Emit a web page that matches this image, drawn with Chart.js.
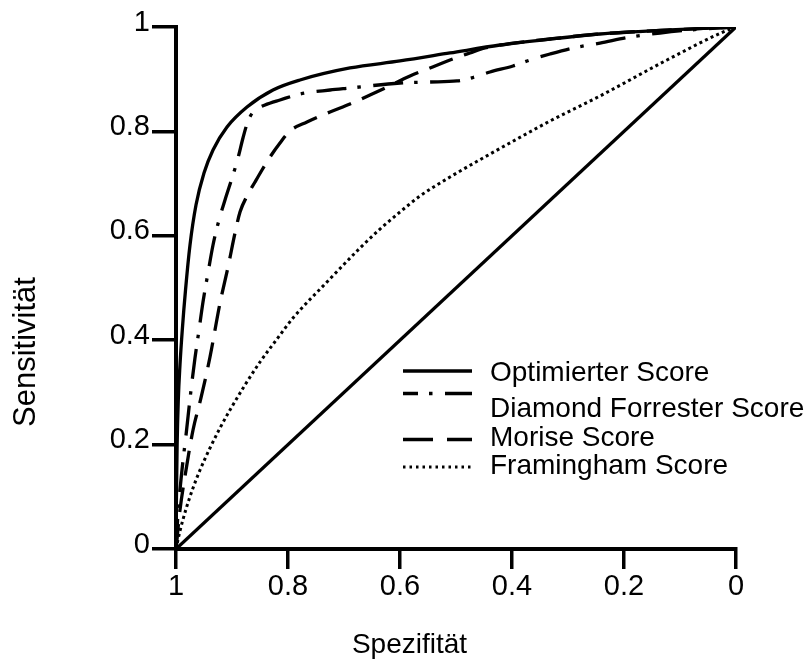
<!DOCTYPE html>
<html>
<head>
<meta charset="utf-8">
<script src="https://cdn.jsdelivr.net/npm/chart.js@4.4.1/dist/chart.umd.min.js"></script>
<style>
  html, body { margin: 0; padding: 0; background: #fff; }
  #c { display: block; }
</style>
</head>
<body>
<canvas id="c" width="810" height="659"></canvas>
<script>
// ---------- data ----------
const xTitle = 'Spezifität';
const yTitle = 'Sensitivität';
const tickValues = [0, 0.2, 0.4, 0.6, 0.8, 1];
const tickLabels = ['0', '0.2', '0.4', '0.6', '0.8', '1'];
const seriesNames = ['Optimierter Score', 'Diamond Forrester Score', 'Morise Score', 'Framingham Score'];

const optSpec = [1, 0.9993, 0.998, 0.9959, 0.9929, 0.9888, 0.983, 0.975, 0.9643, 0.95, 0.9339, 0.9089, 0.8732, 0.8268, 0.7786, 0.6893, 0.6, 0.5107, 0.4214, 0.3321, 0.2429, 0.1179, 0];
const optSens = [0, 0.0939, 0.1992, 0.2854, 0.3525, 0.4195, 0.4962, 0.5824, 0.659, 0.7203, 0.7644, 0.8084, 0.8467, 0.8793, 0.8985, 0.9215, 0.9349, 0.9502, 0.9655, 0.977, 0.9866, 0.9943, 1];

const dfSpec = [1, 0.9964, 0.9893, 0.9821, 0.9732, 0.9661, 0.9589, 0.9518, 0.9429, 0.9339, 0.9232, 0.9125, 0.8982, 0.8893, 0.8804, 0.8732, 0.8661, 0.8554, 0.8411, 0.8143, 0.7786, 0.725, 0.6893, 0.6, 0.5464, 0.4982, 0.4696, 0.4393, 0.3982, 0.3679, 0.3321, 0.2911, 0.2429, 0.1893, 0.1357, 0.0821, 0];
const dfSens = [0, 0.069, 0.1513, 0.2184, 0.3046, 0.3659, 0.4195, 0.4732, 0.5287, 0.5824, 0.6303, 0.6686, 0.7165, 0.749, 0.7874, 0.8142, 0.8314, 0.8429, 0.8506, 0.8602, 0.8716, 0.8793, 0.8831, 0.8927, 0.8946, 0.8966, 0.9033, 0.9138, 0.9253, 0.9368, 0.9483, 0.9598, 0.9693, 0.9808, 0.9885, 0.9943, 1];

const moSpec = [1, 0.9929, 0.9821, 0.9696, 0.9554, 0.9393, 0.9214, 0.9071, 0.8946, 0.8857, 0.8732, 0.8589, 0.8464, 0.8321, 0.8143, 0.7964, 0.7661, 0.725, 0.6893, 0.6536, 0.6268, 0.5821, 0.5464, 0.5107, 0.475, 0.4482, 0.4214, 0.3321, 0.2429, 0.1179, 0];
const moSens = [0, 0.0747, 0.1513, 0.228, 0.2893, 0.3678, 0.4713, 0.5402, 0.6054, 0.6456, 0.6762, 0.7031, 0.7261, 0.751, 0.7778, 0.8008, 0.818, 0.8372, 0.8525, 0.8697, 0.8831, 0.9061, 0.9215, 0.9368, 0.9502, 0.9598, 0.9655, 0.977, 0.9866, 0.9943, 1];

const frSpec = [1, 0.9929, 0.9821, 0.9696, 0.9571, 0.9393, 0.9214, 0.9036, 0.8768, 0.85, 0.8196, 0.7911, 0.7304, 0.6714, 0.6357, 0.6, 0.5643, 0.5107, 0.4518, 0.3911, 0.3321, 0.2429, 0.1232, 0.0232, 0];
const frSens = [0, 0.0345, 0.0766, 0.1169, 0.1513, 0.1935, 0.2318, 0.2663, 0.3142, 0.3582, 0.4023, 0.4425, 0.5115, 0.5766, 0.613, 0.6456, 0.6762, 0.7126, 0.749, 0.7854, 0.8199, 0.8678, 0.9368, 0.9904, 1];

const diagSpec = [1, 0];
const diagSens = [0, 1];

// ---------- styles ----------
const FONT = '"Liberation Sans", Arial, Helvetica, sans-serif';
const curveWidth = 3.3;
const dashes = {
  solid: [],
  dashDot: [30, 11, 3.5, 12.5],
  dashed: [25, 12],
  dotted: [3, 3.2]
};
const legendDashes = [[], [30, 11, 3.5, 12.5], [30, 14], [2.5, 4]];
const legendDashOffsets = [0, 15, 0, 0];
const legendLineY = [371, 393.5, 439.5, 467];
const legendTextY = [380.5, 416.5, 445.5, 473.5];

function zip(xs, ys) { return xs.map((x, i) => ({ x: x, y: ys[i] })); }

const datasets = [
  { label: seriesNames[0], data: zip(optSpec, optSens), borderDash: dashes.solid, borderWidth: curveWidth },
  { label: seriesNames[1], data: zip(dfSpec, dfSens), borderDash: dashes.dashDot, borderWidth: curveWidth },
  { label: seriesNames[2], data: zip(moSpec, moSens), borderDash: dashes.dashed, borderWidth: curveWidth },
  { label: seriesNames[3], data: zip(frSpec, frSens), borderDash: dashes.dotted, borderWidth: 3 },
  { label: '', data: zip(diagSpec, diagSens), borderDash: [], borderWidth: curveWidth, cubicInterpolationMode: 'default', tension: 0 }
].map(d => Object.assign({
  borderColor: '#000',
  backgroundColor: '#000',
  pointRadius: 0,
  pointHoverRadius: 0,
  fill: false,
  cubicInterpolationMode: 'monotone',
  borderCapStyle: 'butt'
}, d));

const annotPlugin = {
  id: 'annot',
  afterDraw(chart) {
    const ctx = chart.ctx;
    ctx.save();
    ctx.fillStyle = '#000';
    ctx.strokeStyle = '#000';
    ctx.textBaseline = 'alphabetic';
    // axis titles
    ctx.font = '28px ' + FONT;
    ctx.textAlign = 'center';
    ctx.fillText(xTitle, 409.5, 653);
    ctx.save();
    ctx.translate(35, 352);
    ctx.rotate(-Math.PI / 2);
    ctx.font = '31px ' + FONT;
    ctx.fillText(yTitle, 0, 0);
    ctx.restore();
    // legend
    ctx.textAlign = 'left';
    ctx.font = '28px ' + FONT;
    for (let i = 0; i < 4; i++) {
      const ds = chart.data.datasets[i];
      ctx.beginPath();
      ctx.lineWidth = ds.borderWidth;
      ctx.setLineDash(legendDashes[i]);
      ctx.lineDashOffset = legendDashOffsets[i];
      ctx.moveTo(403, legendLineY[i]);
      ctx.lineTo(472, legendLineY[i]);
      ctx.stroke();
      ctx.setLineDash([]);
      ctx.fillText(ds.label, 490, legendTextY[i]);
    }
    ctx.restore();
  }
};

function axisOpts(isX) {
  return {
    type: 'linear',
    min: 0,
    max: 1,
    reverse: isX,
    afterBuildTicks: s => { s.ticks = tickValues.map(v => ({ value: v })); },
    afterFit: s => { if (isX) { s.height = 110; } else { s.width = 176; } },
    ticks: {
      callback: (v, i) => tickLabels[i],
      font: { family: FONT, size: 29 },
      color: '#000',
      padding: isX ? 1 : 2,
      labelOffset: isX ? 0 : -4.5,
      maxRotation: 0,
      autoSkip: false
    },
    grid: {
      display: true,
      drawOnChartArea: false,
      drawTicks: true,
      tickLength: isX ? 20 : 24,
      color: '#000',
      lineWidth: 3.5
    },
    border: { display: true, color: '#000', width: 4 },
    title: { display: false }
  };
}

new Chart(document.getElementById('c'), {
  type: 'line',
  data: { datasets: datasets },
  options: {
    responsive: false,
    animation: false,
    devicePixelRatio: 1,
    layout: { padding: { left: 0, top: 27, right: 74, bottom: 0 } },
    plugins: {
      legend: { display: false },
      tooltip: { enabled: false },
      title: { display: false }
    },
    scales: {
      x: axisOpts(true),
      y: axisOpts(false)
    }
  },
  plugins: [annotPlugin]
});
</script>
</body>
</html>
